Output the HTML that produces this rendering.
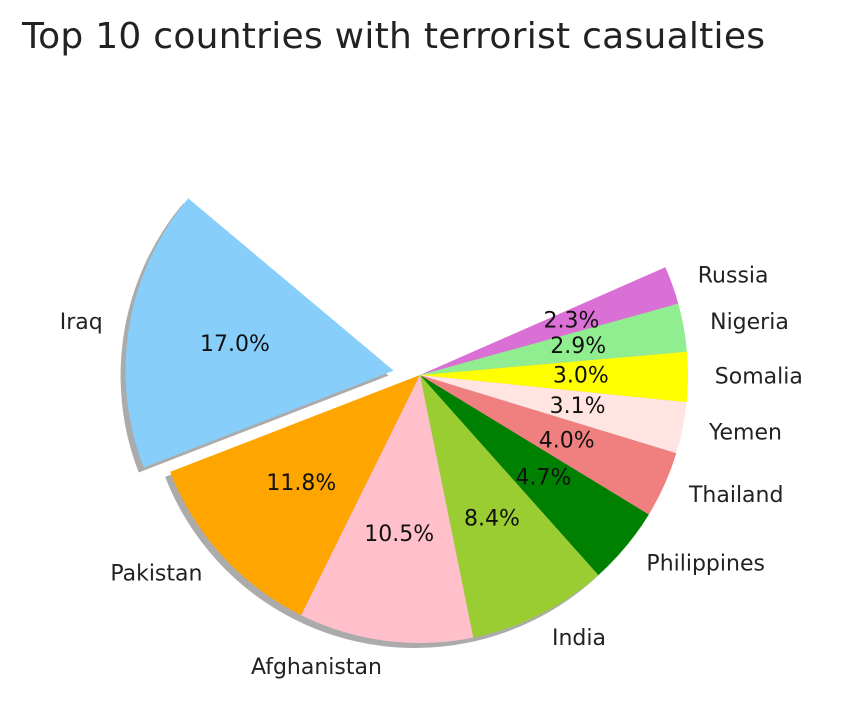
<!DOCTYPE html>
<html><head><meta charset="utf-8"><style>
body{margin:0;background:#fff;}
svg{display:block;font-family:"DejaVu Sans","Liberation Sans",sans-serif;}
</style></head><body>
<svg id="chart" width="856" height="713">
<text x="22" y="48" font-size="36" fill="#222" textLength="743">Top 10 countries with terrorist casualties</text>
<g id="shadows"></g><g id="wedges"></g><g id="labels"></g>
</svg>
<script>
const countries=["Iraq","Pakistan","Afghanistan","India","Philippines","Thailand","Yemen","Somalia","Nigeria","Russia"];
const shares=[0.170,0.118,0.105,0.084,0.047,0.040,0.031,0.030,0.029,0.023];
const explodes=[0.1,0,0,0,0,0,0,0,0,0];
const colors=["lightskyblue","orange","pink","yellowgreen","green","lightcoral","mistyrose","yellow","lightgreen","orchid"];
const cx=420,cy=375,R=268,start=140;
const ns="http://www.w3.org/2000/svg";
const sh=document.getElementById('shadows'),wg=document.getElementById('wedges'),lb=document.getElementById('labels');
function pt(x,y,r,a){const t=a*Math.PI/180;return [x+r*Math.cos(t),y-r*Math.sin(t)];}
function arc(x,y,a1,a2){const p1=pt(x,y,R,a1),p2=pt(x,y,R,a2);const lg=(a2-a1)>180?1:0;
return `M${x},${y} L${p1[0]},${p1[1]} A${R},${R} 0 ${lg} 0 ${p2[0]},${p2[1]} Z`;}
let a=start;
shares.forEach((v,i)=>{
 const span=v*360,mid=a+span/2;
 const [x,y]=pt(cx,cy,explodes[i]*R,mid);
 const s=document.createElementNS(ns,'path');
 s.setAttribute('d',arc(x-5,y+5,a,a+span));s.setAttribute('fill','#888');s.setAttribute('opacity','0.7');
 
 
 sh.appendChild(s);
 const w=document.createElementNS(ns,'path');
 w.setAttribute('d',arc(x,y,a,a+span));w.setAttribute('fill',colors[i]);
 
 
 wg.appendChild(w);
 const lp=pt(x,y,1.1*R,mid);
 const t=document.createElementNS(ns,'text');
 t.setAttribute('x',lp[0]);t.setAttribute('y',lp[1]);t.setAttribute('font-size','22');t.setAttribute('fill','#222');
 t.setAttribute('dominant-baseline','central');t.setAttribute('text-anchor',Math.cos(mid*Math.PI/180)>0?'start':'end');
 t.textContent=countries[i];
 
 
 lb.appendChild(t);
 const pp=pt(x,y,0.6*R,mid);
 const p=document.createElementNS(ns,'text');
 p.setAttribute('x',pp[0]);p.setAttribute('y',pp[1]);p.setAttribute('font-size','22');p.setAttribute('fill','#111');
 p.setAttribute('dominant-baseline','central');p.setAttribute('text-anchor','middle');
 p.textContent=(v*100).toFixed(1)+'%';
 
 
 lb.appendChild(p);
 a+=span;
});
</script>
</body></html>
